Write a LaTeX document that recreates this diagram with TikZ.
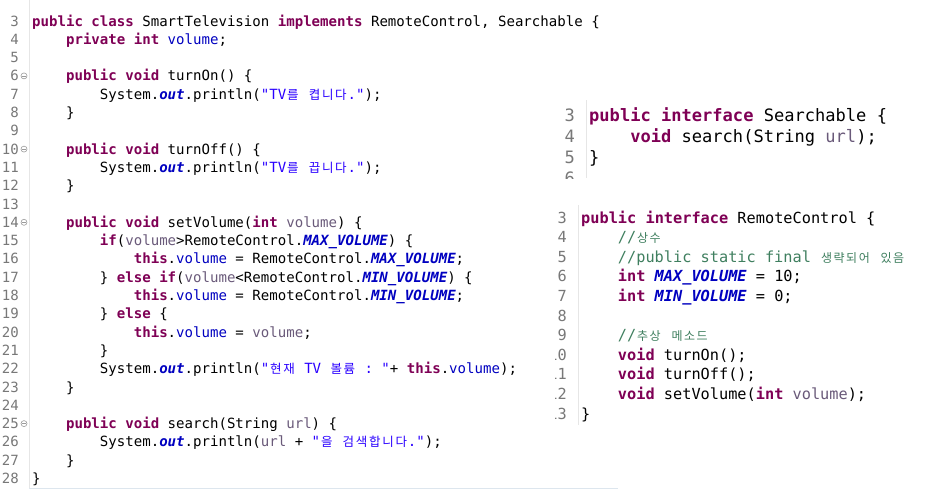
\documentclass[tikz,border=0pt]{standalone}
\usepackage{fontspec}
\newfontfamily\cf{DejaVu Sans Mono}
\newfontfamily\kofont{Noto Sans CJK KR}
\definecolor{kwc}{HTML}{7F0055}
\definecolor{fldc}{HTML}{0000C0}
\definecolor{strc}{HTML}{2A00FF}
\definecolor{cmtc}{HTML}{3F7F5F}
\definecolor{prmc}{HTML}{6A5A7A}
\definecolor{numc}{HTML}{787878}
\definecolor{gutc}{HTML}{E6E6E6}
\definecolor{botc}{HTML}{DDE6EE}
\definecolor{foldc}{HTML}{9A9A9A}
\definecolor{txtc}{HTML}{000000}
\newlength\kow
\newcommand\kosz{12.5pt}
\newcommand\ko[1]{\kloop#1\relax}
\def\kloop#1{\ifx\relax#1\else\makebox[\kow][c]{\fontsize{\kosz}{13pt}\kofont #1}\expandafter\kloop\fi}
\newcommand\jk[1]{{\bfseries\color{kwc}#1}}
\newcommand\jf[1]{{\color{fldc}#1}}
\newcommand\jc[1]{{\bfseries\itshape\color{fldc}#1}}
\newcommand\js[1]{{\color{strc}#1}}
\newcommand\jm[1]{{\color{cmtc}#1}}
\newcommand\jp[1]{{\color{prmc}#1}}
\newcommand\cfL{\cf\fontsize{14.07pt}{17pt}\selectfont\frenchspacing\setlength\kow{13.2pt}\renewcommand\kosz{12.5pt}}
\newcommand\cfU{\cf\fontsize{17.06pt}{20pt}\selectfont\frenchspacing}
\newcommand\cfR{\cf\fontsize{15.27pt}{18pt}\selectfont\frenchspacing\setlength\kow{12.6pt}\renewcommand\kosz{12pt}}
\tikzset{
  codeL/.style={anchor=base west,inner sep=0pt,font=\cfL,text=txtc},
  numL/.style={anchor=base east,inner sep=0pt,font=\cfL,text=numc},
  codeU/.style={anchor=base west,inner sep=0pt,font=\cfU,text=txtc},
  numU/.style={anchor=base east,inner sep=0pt,font=\cfU,text=numc},
  codeR/.style={anchor=base west,inner sep=0pt,font=\cfR,text=txtc},
  numR/.style={anchor=base east,inner sep=0pt,font=\cfR,text=numc},
  gutter/.style={draw=gutc,line width=0.8pt},
  foldmark/.style={draw=foldc,line width=0.6pt}
}
\begin{document}
\begin{tikzpicture}[x=1pt,y=-1pt]
\useasboundingbox (0,0) rectangle (928,493);
\fill[white] (0,0) rectangle (928,493);
% ---------------- left panel ----------------
\def\lb#1{26+(#1-3)*18.3}
\def\li#1{32+#1*8.47}
\draw[gutter] (29,0) -- (29,488);
\draw[draw=botc,line width=0.8pt] (29,488) -- (618,488);
\foreach \n in {3,...,28} { \node[numL] (LN\n) at (19,{\lb{\n}}) {\n}; }
\foreach \n in {6,10,14,25} {
  \draw[foldmark] (24,{\lb{\n}-5}) circle (3);
  \draw[foldmark] (22.3,{\lb{\n}-5}) -- (25.7,{\lb{\n}-5});
}
\node[codeL] (L3) at ({\li{0}},{\lb{3}}) {\jk{public} \jk{class} SmartTelevision \jk{implements} RemoteControl, Searchable \{};
\node[codeL] (L4) at ({\li{4}},{\lb{4}}) {\jk{private} \jk{int} \jf{volume};};
\node[codeL] (L6) at ({\li{4}},{\lb{6}}) {\jk{public} \jk{void} turnOn() \{};
\node[codeL] (L7) at ({\li{8}},{\lb{7}}) {System.\jc{out}.println(\js{"TV\ko{를} \ko{켭니다}."});};
\node[codeL] (L8) at ({\li{4}},{\lb{8}}) {\}};
\node[codeL] (L10) at ({\li{4}},{\lb{10}}) {\jk{public} \jk{void} turnOff() \{};
\node[codeL] (L11) at ({\li{8}},{\lb{11}}) {System.\jc{out}.println(\js{"TV\ko{를} \ko{끕니다}."});};
\node[codeL] (L12) at ({\li{4}},{\lb{12}}) {\}};
\node[codeL] (L14) at ({\li{4}},{\lb{14}}) {\jk{public} \jk{void} setVolume(\jk{int} \jp{volume}) \{};
\node[codeL] (L15) at ({\li{8}},{\lb{15}}) {\jk{if}(\jp{volume}>RemoteControl.\jc{MAX\_VOLUME}) \{};
\node[codeL] (L16) at ({\li{12}},{\lb{16}}) {\jk{this}.\jf{volume} = RemoteControl.\jc{MAX\_VOLUME};};
\node[codeL] (L17) at ({\li{8}},{\lb{17}}) {\} \jk{else} \jk{if}(\jp{volume}<RemoteControl.\jc{MIN\_VOLUME}) \{};
\node[codeL] (L18) at ({\li{12}},{\lb{18}}) {\jk{this}.\jf{volume} = RemoteControl.\jc{MIN\_VOLUME};};
\node[codeL] (L19) at ({\li{8}},{\lb{19}}) {\} \jk{else} \{};
\node[codeL] (L20) at ({\li{12}},{\lb{20}}) {\jk{this}.\jf{volume} = \jp{volume};};
\node[codeL] (L21) at ({\li{8}},{\lb{21}}) {\}};
\node[codeL] (L22) at ({\li{8}},{\lb{22}}) {System.\jc{out}.println(\js{"\ko{현재} TV \ko{볼륨} : "}+ \jk{this}.\jf{volume});};
\node[codeL] (L23) at ({\li{4}},{\lb{23}}) {\}};
\node[codeL] (L25) at ({\li{4}},{\lb{25}}) {\jk{public} \jk{void} search(String \jp{url}) \{};
\node[codeL] (L26) at ({\li{8}},{\lb{26}}) {System.\jc{out}.println(\jp{url} + \js{"\ko{을} \ko{검색합니다}."});};
\node[codeL] (L27) at ({\li{4}},{\lb{27}}) {\}};
\node[codeL] (L28) at ({\li{0}},{\lb{28}}) {\}};
% ---------------- upper right panel ----------------
\def\ub#1{121+(#1-3)*21.3}
\def\ui#1{589+#1*10.27}
\draw[gutter] (586,100) -- (586,178);
\begin{scope}
\clip (540,95) rectangle (928,178);
\foreach \n in {3,...,6} { \node[numU] (UN\n) at (575,{\ub{\n}}) {\n}; }
\end{scope}
\node[codeU] (U3) at ({\ui{0}},{\ub{3}}) {\jk{public} \jk{interface} Searchable \{};
\node[codeU] (U4) at ({\ui{4}},{\ub{4}}) {\jk{void} search(String \jp{url});};
\node[codeU] (U5) at ({\ui{0}},{\ub{5}}) {\}};
% ---------------- lower right panel ----------------
\def\rb#1{223+(#1-3)*19.6}
\def\ri#1{581+#1*9.19}
\draw[gutter] (578,205) -- (578,425);
\begin{scope}
\clip (555.5,200) rectangle (928,430);
\foreach \n in {3,...,13} { \node[numR] (RN\n) at (567,{\rb{\n}}) {\n}; }
\end{scope}
\node[codeR] (R3) at ({\ri{0}},{\rb{3}}) {\jk{public} \jk{interface} RemoteControl \{};
\node[codeR] (R4) at ({\ri{4}},{\rb{4}}) {\jm{//\ko{상수}}};
\node[codeR] (R5) at ({\ri{4}},{\rb{5}}) {\jm{//public static final \ko{생략되어} \ko{있음}}};
\node[codeR] (R6) at ({\ri{4}},{\rb{6}}) {\jk{int} \jc{MAX\_VOLUME} = 10;};
\node[codeR] (R7) at ({\ri{4}},{\rb{7}}) {\jk{int} \jc{MIN\_VOLUME} = 0;};
\node[codeR] (R9) at ({\ri{4}},{\rb{9}}) {\jm{//\ko{추상} \ko{메소드}}};
\node[codeR] (R10) at ({\ri{4}},{\rb{10}}) {\jk{void} turnOn();};
\node[codeR] (R11) at ({\ri{4}},{\rb{11}}) {\jk{void} turnOff();};
\node[codeR] (R12) at ({\ri{4}},{\rb{12}}) {\jk{void} setVolume(\jk{int} \jp{volume});};
\node[codeR] (R13) at ({\ri{0}},{\rb{13}}) {\}};
\end{tikzpicture}
\end{document}
